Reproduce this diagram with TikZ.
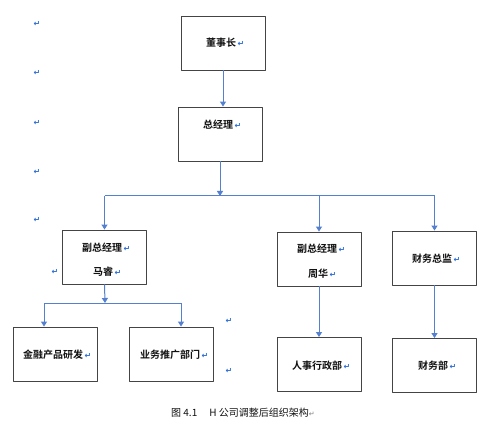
\documentclass[tikz,border=0pt]{standalone}
\usepackage{fontspec}
\newfontfamily\cjk{Noto Sans CJK SC}[BoldFont={Noto Sans CJK SC Bold}]
\newfontfamily\symfont{DejaVu Sans}[BoldFont={DejaVu Sans Bold}]
\usetikzlibrary{arrows.meta,positioning}
\definecolor{orgFrame}{HTML}{444444}
\definecolor{orgLink}{HTML}{5580CF}
\definecolor{orgMark}{HTML}{2F6FD6}
\definecolor{orgInk}{HTML}{111111}
\newcommand{\ret}{{\symfont\bfseries\color{orgMark}\fontsize{8}{8}\selectfont\,↵}}

\begin{document}
\begin{tikzpicture}[x=1pt,y=-1pt,>={Triangle[width=6pt,length=5pt]},line join=round]
\path[fill=white] (0,0) rectangle (494,427);
\tikzset{box/.style={draw=orgFrame,line width=0.9pt,minimum width=84pt,minimum height=54pt,inner sep=0pt},link/.style={draw=orgLink,line width=1pt},lbl/.style={anchor=west,inner sep=0pt,text=orgInk,font=\cjk\bfseries\fontsize{10}{12}\selectfont},parmark/.style={inner sep=0pt,font=\symfont\bfseries\fontsize{8}{8}\selectfont,text=orgMark}}
% boxes
\node[box] (dsz) at (223,43) {};
\node[box] (zjl) at (220,134) {};
\node[box] (fzA) at (104.5,257) {};
\node[box] (fzB) at (319,259) {};
\node[box] (cwzj) at (434.5,258) {};
\node[box] (jr) at (55.5,354) {};
\node[box] (yw) at (171.5,354) {};
\node[box] (rs) at (319,364.5) {};
\node[box] (cwb) at (434.5,365.5) {};
% labels
\node[lbl] (tDsz) at (206,43) {董事长\ret};
\node[lbl] (tZjl) at (203,125) {总经理\ret};
\node[lbl] (tFzA) at (82,248) {副总经理\ret};
\node[lbl] (tMr) at (93,272) {马睿\ret};
\node[lbl] (tFzB) at (297,249) {副总经理\ret};
\node[lbl] (tZh) at (308,274) {周华\ret};
\node[lbl] (tCwzj) at (412,259) {财务总监\ret};
\node[lbl] (tJr) at (23,355) {金融产品研发\ret};
\node[lbl] (tYw) at (140,355) {业务推广部门\ret};
\node[lbl] (tRs) at (292,366) {人事行政部\ret};
\node[lbl] (tCwb) at (418,366) {财务部\ret};
% links
\coordinate (top) at (220,196);
\coordinate (mid) at (105,303);
\draw[link,->] (dsz.south) -- (dsz.south |- zjl.north);
\draw[link,->] (zjl.south) -- (top);
\draw[link] (fzA.north |- top) -- (cwzj.north |- top);
\draw[link,->] (fzA.north |- top) -- (fzA.north);
\draw[link,->] (fzB.north |- top) -- (fzB.north);
\draw[link,->] (cwzj.north |- top) -- (cwzj.north);
\draw[link,->] (fzA.south) -- (mid);
\draw[link] ([xshift=-11.5pt]jr.north |- mid) -- ([xshift=9.5pt]yw.north |- mid);
\draw[link,->] ([xshift=-11.5pt]jr.north |- mid) -- ([xshift=-11.5pt]jr.north);
\draw[link,->] ([xshift=9.5pt]yw.north |- mid) -- ([xshift=9.5pt]yw.north);
\draw[link,->] (fzB.south) -- (rs.north);
\draw[link,->] (cwzj.south) -- (cwb.north);
% paragraph marks
\foreach \y [count=\i] in {24,73,123,172,220} \node[parmark] (pm\i) at (37,\y) {↵};
\node[parmark] (pm6) at (55,272) {↵};
\node[parmark] (pm7) at (229,321) {↵};
\node[parmark] (pm8) at (229,371) {↵};
\node[anchor=west,inner sep=0pt,text=orgInk,font=\cjk\fontsize{10}{12}\selectfont] (cap) at (171,413) {图 4.1\hspace{1.2em}H 公司调整后组织架构{\symfont\color{gray}\fontsize{7}{7}\selectfont ↵}};
\end{tikzpicture}
\end{document}
